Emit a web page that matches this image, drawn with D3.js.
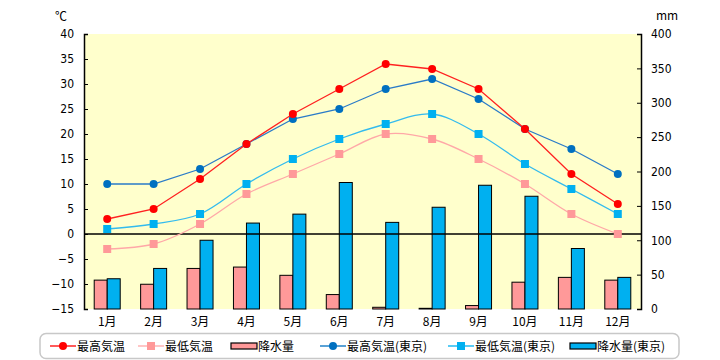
<!DOCTYPE html>
<html><head><meta charset="utf-8">
<script src="https://cdn.jsdelivr.net/npm/d3@7/dist/d3.min.js"></script>
<style>body{margin:0;background:#fff}svg{display:block}text{font-family:"Noto Sans CJK JP","Noto Sans",sans-serif}</style>
</head><body><svg id="c" width="720" height="360"></svg>
<script>
const months = ["1月","2月","3月","4月","5月","6月","7月","8月","9月","10月","11月","12月"];
const maxTemp = [3,5,11,18,24,29,34,33,29,21,12,6];
const minTemp = [-3,-2,2,8,12,16,20,19,15,10,4,0];
const precip = [42,36,59,61,49,21,2.5,1,5,39,46,42];
const maxTempTokyo = [10,10,13,18,23,25,29,31,27,21,17,12];
const minTempTokyo = [1,2,4,10,15,19,22,24,20,14,9,4];
const precipTokyo = [44,59,100,125,138,184,126,148,180,164,88,46];
const tempTicks = d3.range(-15,41,5);
const precipTicks = d3.range(0,401,50);
const legendLabels = ["最高気温","最低気温","降水量","最高気温(東京)","最低気温(東京)","降水量(東京)"];

const svg = d3.select("#c");
const L=84,R=641,T=34,B=309;
const x = d3.scaleBand().domain(months).range([L,R]);
const yT = d3.scaleLinear().domain([-15,40]).range([B,T]);
const yP = d3.scaleLinear().domain([0,400]).range([B,T]);

svg.append("rect").attr("x",L).attr("y",T).attr("width",R-L).attr("height",B-T).attr("fill","#FFFFCC");

// bars
const bw = 13;
svg.append("g").selectAll("rect").data(precip).join("rect")
  .attr("x",(d,i)=>x(months[i])+x.bandwidth()/2-bw).attr("width",bw)
  .attr("y",d=>yP(d)).attr("height",d=>B-yP(d))
  .attr("fill","#FF9999").attr("stroke","#000").attr("stroke-width",1);
svg.append("g").selectAll("rect").data(precipTokyo).join("rect")
  .attr("x",(d,i)=>x(months[i])+x.bandwidth()/2).attr("width",bw)
  .attr("y",d=>yP(d)).attr("height",d=>B-yP(d))
  .attr("fill","#00B0F0").attr("stroke","#000").attr("stroke-width",1);

// zero line
svg.append("line").attr("x1",L).attr("x2",R).attr("y1",yT(0)).attr("y2",yT(0)).attr("stroke","#000").attr("stroke-width",1.5);

const cx = i=>x(months[i])+x.bandwidth()/2;
function series(data,color,lineColor,marker,smooth){
  const line = d3.line().x((d,i)=>cx(i)).y(d=>yT(d)).curve(smooth?d3.curveCatmullRom.alpha(0.5):d3.curveLinear);
  svg.append("path").attr("d",line(data)).attr("fill","none").attr("stroke",lineColor).attr("stroke-width",1.3);
  const g = svg.append("g");
  if(marker==="circle"){
    g.selectAll("circle").data(data).join("circle").attr("cx",(d,i)=>cx(i)).attr("cy",d=>yT(d)).attr("r",4).attr("fill",color);
  } else {
    g.selectAll("rect").data(data).join("rect").attr("x",(d,i)=>cx(i)-4).attr("y",d=>yT(d)-4).attr("width",8).attr("height",8).attr("fill",color);
  }
}
series(minTemp,"#FF9999","#FFA8A8","square",true);
series(minTempTokyo,"#00B0F0","#33BBEE","square",true);
series(maxTempTokyo,"#0070C0","#2A7BC8","circle",false);
series(maxTemp,"#FF0000","#FF2020","circle",false);

// axes
const axL = svg.append("g").attr("transform",`translate(${L},0)`).call(d3.axisLeft(yT).tickValues(tempTicks).tickSize(-4).tickPadding(10));
const axR = svg.append("g").attr("transform",`translate(${R},0)`).call(d3.axisRight(yP).tickValues(precipTicks).tickSize(-4).tickPadding(10));
[axL,axR].forEach(a=>{a.select(".domain").attr("stroke","#000").attr("stroke-width",1.5);
  a.selectAll("text").attr("font-size",12).attr("fill","#000").style("font-family","'DejaVu Sans Condensed','Liberation Sans',sans-serif");});
const axB = svg.append("g").attr("transform",`translate(0,${B})`).call(d3.axisBottom(x).tickSize(0).tickPadding(8));
axB.select(".domain").remove();
axB.selectAll("text").attr("font-size",12).attr("fill","#000");

svg.append("text").attr("x",55).attr("y",21).attr("font-size",12).text("℃");
svg.append("text").attr("x",656).attr("y",20).attr("font-size",12).text("mm");

// legend
svg.append("rect").attr("x",40).attr("y",333.5).attr("width",639).attr("height",25).attr("rx",6).attr("fill","#fff").attr("stroke","#C8C8C8").attr("stroke-width",1.5);
const lx=[50,138,231,320,448,570];
const ly=346;
const kinds=[["line","#FF0000","circle"],["line","#FFA8A8","square","#FF9999"],["bar","#FF9999"],["line","#0070C0","circle"],["line","#00B0F0","square"],["bar","#00B0F0"]];
kinds.forEach((k,i)=>{
  const g=svg.append("g");
  if(k[0]==="line"){
    g.append("line").attr("x1",lx[i]).attr("x2",lx[i]+26).attr("y1",ly).attr("y2",ly).attr("stroke",k[1]).attr("stroke-width",1.3);
    if(k[2]==="circle") g.append("circle").attr("cx",lx[i]+13).attr("cy",ly).attr("r",4).attr("fill",k[1]);
    else g.append("rect").attr("x",lx[i]+9).attr("y",ly-4).attr("width",8).attr("height",8).attr("fill",k[3]||k[1]);
  } else {
    g.append("rect").attr("x",lx[i]).attr("y",ly-3).attr("width",26).attr("height",6).attr("fill",k[1]).attr("stroke","#000").attr("stroke-width",1.2);
  }
  g.append("text").attr("x",lx[i]+27).attr("y",ly+4.5).attr("font-size",12).text(legendLabels[i]);
});
</script></body></html>
